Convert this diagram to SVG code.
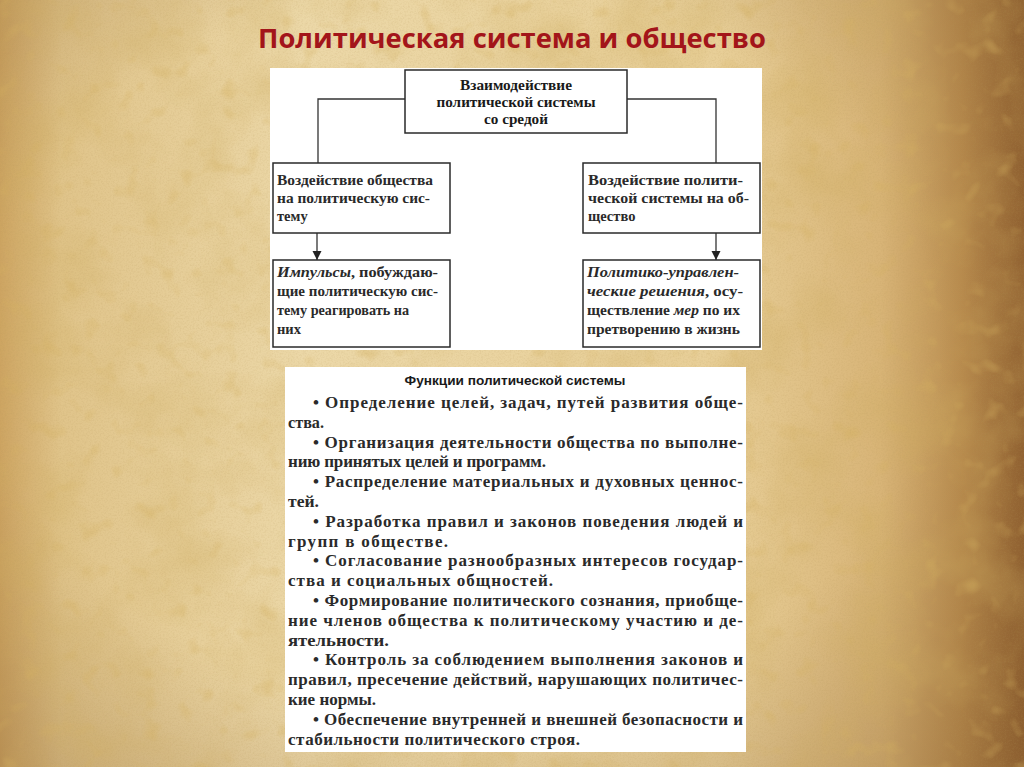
<svg xmlns="http://www.w3.org/2000/svg" width="1024" height="767" viewBox="0 0 1024 767">
<defs>
<linearGradient id="bgx" x1="0" y1="0" x2="1" y2="0">
<stop offset="0" stop-color="#cda462"/>
<stop offset="0.06" stop-color="#e0c48a"/>
<stop offset="0.3" stop-color="#ecd8a8"/>
<stop offset="0.7" stop-color="#e8cf98"/>
<stop offset="0.86" stop-color="#d8b477"/>
<stop offset="0.94" stop-color="#b98c4e"/>
<stop offset="1" stop-color="#936332"/>
</linearGradient>
<radialGradient id="vig" cx="0.45" cy="0.45" r="0.75">
<stop offset="0.62" stop-color="#7a5228" stop-opacity="0"/>
<stop offset="1" stop-color="#7a5228" stop-opacity="0.3"/>
</radialGradient>
<filter id="mottle" x="0" y="0" width="100%" height="100%">
<feTurbulence type="fractalNoise" baseFrequency="0.013" numOctaves="4" seed="7"/>
<feColorMatrix type="matrix" values="0 0 0 0 0.62  0 0 0 0 0.42  0 0 0 0 0.12  1.8 0 0 0 -0.74"/>
</filter>
<filter id="spots" x="0" y="0" width="100%" height="100%">
<feTurbulence type="fractalNoise" baseFrequency="0.05" numOctaves="2" seed="11"/>
<feColorMatrix type="matrix" values="0 0 0 0 0.66  0 0 0 0 0.44  0 0 0 0 0.12  3 0 0 0 -1.75"/>
</filter>
<filter id="grain" x="0" y="0" width="100%" height="100%">
<feTurbulence type="fractalNoise" baseFrequency="0.6" numOctaves="2" seed="2"/>
<feColorMatrix type="matrix" values="0 0 0 0 0.45  0 0 0 0 0.3  0 0 0 0 0.1  1.4 0 0 0 -0.58"/>
</filter>
<marker id="arr" viewBox="0 0 10 10" refX="10" refY="5" markerWidth="9" markerHeight="11" markerUnits="userSpaceOnUse" orient="auto">
<path d="M0,0 L10,5 L0,10 z" fill="#222"/>
</marker>
<style>
.box{fill:#fff;stroke:#2a2a2a;stroke-width:1.5}
.conn{fill:none;stroke:#333;stroke-width:1.3}
.bt{font-family:"Liberation Serif",serif;font-size:14.5px;font-weight:bold;fill:#2a2a2a}
.hd{font-family:"Liberation Serif",serif;font-size:14px;font-weight:bold;fill:#1a1a1a;text-anchor:middle}
.it{font-style:italic}
.body{font-family:"Liberation Serif",serif;font-size:17px;font-weight:bold;fill:#2a2a2a}
.ft{font-family:"Liberation Sans",sans-serif;font-size:12.5px;font-weight:bold;fill:#1a1a1a;text-anchor:middle}
.title{font-family:"Open Sans","Liberation Sans",sans-serif;font-size:27px;font-weight:bold;fill:#a3151a;text-anchor:middle}
</style>
</defs>
<rect width="1024" height="767" fill="url(#bgx)"/>
<rect width="1024" height="767" fill="url(#vig)"/>
<rect width="1024" height="767" filter="url(#mottle)" opacity="0.45"/>
<rect width="1024" height="767" filter="url(#spots)" opacity="0.4"/>
<rect width="1024" height="767" filter="url(#grain)" opacity="0.25"/>
<text class="title" x="512" y="48" textLength="508" lengthAdjust="spacingAndGlyphs">Политическая система и общество</text>
<rect x="270" y="68" width="492" height="282" fill="#fff"/>
<g id="connectors">
<path class="conn" d="M405,99 H318 V163"/>
<path class="conn" d="M627,99 H716 V163"/>
<path class="conn" d="M317,233 V260" marker-end="url(#arr)"/>
<path class="conn" d="M716,233 V260" marker-end="url(#arr)"/>
</g>
<g id="node-interaction">
<rect class="box" x="405" y="70" width="222" height="63"/>
<text class="hd" x="516" y="90" textLength="112" lengthAdjust="spacingAndGlyphs">Взаимодействие</text>
<text class="hd" x="516" y="107" textLength="159" lengthAdjust="spacingAndGlyphs">политической системы</text>
<text class="hd" x="516" y="124" textLength="64" lengthAdjust="spacingAndGlyphs">со средой</text>
</g>
<g id="node-society-effect">
<rect class="box" x="273" y="163" width="177" height="70"/>
<text class="bt" x="277" y="185" textLength="156" lengthAdjust="spacingAndGlyphs">Воздействие общества</text>
<text class="bt" x="277" y="203" textLength="153" lengthAdjust="spacingAndGlyphs">на политическую сис-</text>
<text class="bt" x="277" y="221">тему</text>
</g>
<g id="node-system-effect">
<rect class="box" x="583" y="163" width="177" height="70"/>
<text class="bt" x="588" y="185" textLength="155" lengthAdjust="spacingAndGlyphs">Воздействие полити-</text>
<text class="bt" x="588" y="203" textLength="161" lengthAdjust="spacingAndGlyphs">ческой системы на об-</text>
<text class="bt" x="588" y="221">щество</text>
</g>
<g id="node-impulses">
<rect class="box" x="273" y="260" width="177" height="87"/>
<text class="bt" x="277" y="277" textLength="161" lengthAdjust="spacingAndGlyphs"><tspan class="it">Импульсы</tspan>, побуждаю-</text>
<text class="bt" x="277" y="296" textLength="161" lengthAdjust="spacingAndGlyphs">щие политическую сис-</text>
<text class="bt" x="277" y="315" textLength="132" lengthAdjust="spacingAndGlyphs">тему реагировать на</text>
<text class="bt" x="277" y="334">них</text>
</g>
<g id="node-decisions">
<rect class="box" x="583" y="260" width="177" height="87"/>
<text class="bt" x="587" y="277" textLength="152" lengthAdjust="spacingAndGlyphs"><tspan class="it">Политико-управлен-</tspan></text>
<text class="bt" x="587" y="296" textLength="156" lengthAdjust="spacingAndGlyphs"><tspan class="it">ческие решения</tspan>, осу-</text>
<text class="bt" x="587" y="315" textLength="153" lengthAdjust="spacingAndGlyphs">ществление <tspan class="it">мер</tspan> по их</text>
<text class="bt" x="587" y="334" textLength="153" lengthAdjust="spacingAndGlyphs">претворению в жизнь</text>
</g>
<g id="node-functions">
<rect x="285" y="367" width="461" height="385" fill="#fff"/>
<text class="ft" x="515" y="385" textLength="221" lengthAdjust="spacingAndGlyphs">Функции политической системы</text>
<text class="body" x="313" y="408" textLength="430" lengthAdjust="spacing">• Определение целей, задач, путей развития обще-</text>
<text class="body" x="288" y="428" textLength="36" lengthAdjust="spacingAndGlyphs">ства.</text>
<text class="body" x="313" y="448" textLength="430" lengthAdjust="spacing">• Организация деятельности общества по выполне-</text>
<text class="body" x="288" y="467" textLength="258" lengthAdjust="spacing">нию принятых целей и программ.</text>
<text class="body" x="313" y="487" textLength="430" lengthAdjust="spacing">• Распределение материальных и духовных ценнос-</text>
<text class="body" x="288" y="507" textLength="31" lengthAdjust="spacingAndGlyphs">тей.</text>
<text class="body" x="313" y="527" textLength="430" lengthAdjust="spacing">• Разработка правил и законов поведения людей и</text>
<text class="body" x="288" y="547" textLength="160" lengthAdjust="spacing">групп в обществе.</text>
<text class="body" x="313" y="566" textLength="430" lengthAdjust="spacing">• Согласование разнообразных интересов государ-</text>
<text class="body" x="288" y="586" textLength="265" lengthAdjust="spacing">ства и социальных общностей.</text>
<text class="body" x="313" y="606" textLength="430" lengthAdjust="spacing">• Формирование политического сознания, приобще-</text>
<text class="body" x="288" y="626" textLength="455" lengthAdjust="spacing">ние членов общества к политическому участию и де-</text>
<text class="body" x="288" y="646" textLength="101" lengthAdjust="spacingAndGlyphs">ятельности.</text>
<text class="body" x="313" y="665" textLength="430" lengthAdjust="spacing">• Контроль за соблюдением выполнения законов и</text>
<text class="body" x="288" y="685" textLength="455" lengthAdjust="spacing">правил, пресечение действий, нарушающих политичес-</text>
<text class="body" x="288" y="705">кие нормы.</text>
<text class="body" x="313" y="725" textLength="430" lengthAdjust="spacing">• Обеспечение внутренней и внешней безопасности и</text>
<text class="body" x="288" y="745" textLength="292" lengthAdjust="spacing">стабильности политического строя.</text>
</g>
</svg>
